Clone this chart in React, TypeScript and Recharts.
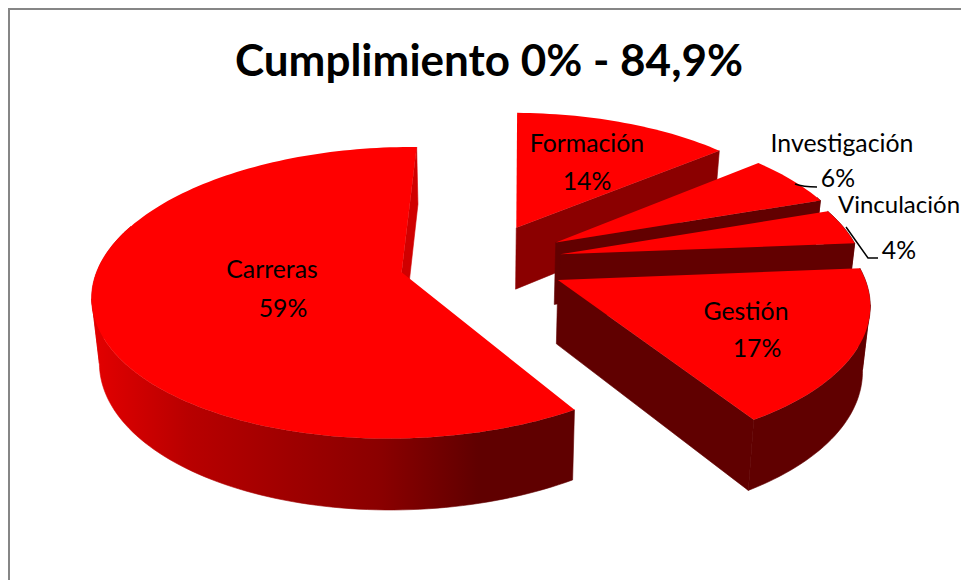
import { PieChart, Pie } from "recharts";

const categories = ["Carreras", "Formación", "Investigación", "Vinculación", "Gestión"];
const shares = [59.2, 13.6, 5.8, 4.0, 17.4];

const data = categories.map((name, i) => ({ name, value: shares[i] }));

// 3D look of the slices
const TILT = 140 / 302;
const PERSPECTIVE = 0.14;
const DEPTH = 63;
const BOTTOM_SCALE = 0.98;
const EXPLODE = [0.27, 0.28, 0.29, 0.27, 0.28];
const TOP_COLOR = "#ff0000";
const CUT_COLORS = ["#d00000", "#8b0000", "#620000", "#620000", "#600000"];
const WALL_STOPS = [
  ["#e40000", "#b80000", "#a00000", "#8a0000", "#600000", "#600000"],
  ["#8b0000", "#8b0000"],
  ["#620000", "#620000"],
  ["#620000", "#620000"],
  ["#600000", "#600000"],
];

// label placement: x, y of name, x, y of percent
const LABEL_POS = [
  [272, 278, 283, 317],
  [587, 152, 587, 190],
  [842, 152, 838, 187],
  [899, 213, 899, 259],
  [746, 320, 757, 357],
];
const LEADERS: Record<number, string> = {
  2: "M795 184 Q803 187 817 187",
  3: "M846 227 L868 258 L878 258",
};

type Pt = [number, number];

function Slice(props: any) {
  const { cx, cy, outerRadius, startAngle, endAngle, name } = props;
  const idx = categories.indexOf(name);
  const mid = (90 - (startAngle + endAngle) / 2) * (Math.PI / 180);
  const ox = Math.sin(mid) * EXPLODE[idx];
  const oz = Math.cos(mid) * EXPLODE[idx];

  const project = (r: number, theta: number, lower = false): Pt => {
    const X = ox + r * Math.sin(theta);
    const Z = oz + r * Math.cos(theta);
    const w = 1 + PERSPECTIVE * Z;
    const sx = (outerRadius * X) / w;
    const sy = -(outerRadius * TILT * Z) / w;
    if (!lower) return [cx + sx, cy + sy];
    return [cx + sx * BOTTOM_SCALE, cy + sy + DEPTH / (1 + 0.11 * Z)];
  };

  const a0 = (90 - startAngle) * (Math.PI / 180);
  const a1 = (90 - endAngle) * (Math.PI / 180);
  const steps = Math.max(8, Math.round(Math.abs(a1 - a0) * 40));
  const thetas: number[] = [];
  for (let i = 0; i <= steps; i++) thetas.push(a0 + ((a1 - a0) * i) / steps);

  const toPath = (pts: Pt[]) =>
    "M" + pts.map((p) => p[0].toFixed(2) + " " + p[1].toFixed(2)).join("L") + "Z";

  const apex = project(0, 0);
  const apexLow = project(0, 0, true);
  const rim = thetas.map((t) => project(1, t));
  const inner = rim[Math.floor(rim.length / 2)];

  // a cut face shows only when its lower edge falls outside the top face
  const cut = (theta: number) => {
    const p = project(1, theta);
    const ex = p[0] - apex[0];
    const ey = p[1] - apex[1];
    const side = ex * (inner[1] - apex[1]) - ey * (inner[0] - apex[0]);
    if (ex * side >= 0) return null;
    return toPath([apex, p, project(1, theta, true), apexLow]);
  };

  const front = thetas.filter((t) => Math.cos(t) < 0.35);
  // split the wall where the rim turns back, else the fold leaves a hole in the fill
  const runs: number[][] = [];
  let run: number[] = [];
  let lastDir = 0;
  front.forEach((t, i) => {
    if (i > 0) {
      const dir = Math.sign(project(1, t)[0] - project(1, front[i - 1])[0]);
      if (lastDir !== 0 && dir !== lastDir) {
        runs.push(run);
        run = [front[i - 1]];
      }
      lastDir = dir;
    }
    run.push(t);
  });
  if (run.length > 1) runs.push(run);

  const wallPaths = runs.map((r) =>
    toPath([
      ...r.map((t) => project(1, t)),
      ...[...r].reverse().map((t) => project(1, t, true)),
    ])
  );
  const wallXs = front.map((t) => project(1, t)[0]);
  const stops = WALL_STOPS[idx];
  const gradId = "wall-" + idx;
  const cuts = [cut(a0), cut(a1)];

  return (
    <g>
      <defs>
        <linearGradient
          id={gradId}
          gradientUnits="userSpaceOnUse"
          x1={wallXs.length ? Math.min(...wallXs) : 0}
          x2={wallXs.length ? Math.max(...wallXs) : 1}
          y1={0}
          y2={0}
        >
          {stops.map((c, i) => (
            <stop key={i} offset={i / (stops.length - 1)} stopColor={c} />
          ))}
        </linearGradient>
      </defs>
      {wallPaths.map((d, i) => (
        <path key={i} d={d} fill={`url(#${gradId})`} stroke={`url(#${gradId})`} strokeWidth={0.6} />
      ))}
      {cuts.map(
        (d, i) => d && <path key={i} d={d} fill={CUT_COLORS[idx]} stroke={CUT_COLORS[idx]} strokeWidth={0.6} />
      )}
      <path d={toPath([apex, ...rim])} fill={TOP_COLOR} />
    </g>
  );
}

function SliceLabel(props: any) {
  const idx = categories.indexOf(props.name);
  const pos = LABEL_POS[idx];
  return (
    <g fontFamily="Lato" fontSize={24.8} fill="#000">
      {LEADERS[idx] && <path d={LEADERS[idx]} fill="none" stroke="#000" strokeWidth={1.5} />}
      <text x={pos[0]} y={pos[1]} textAnchor="middle" fontSize={idx === 3 ? 24 : undefined}>
        {props.name}
      </text>
      <text x={pos[2]} y={pos[3]} textAnchor="middle">
        {Math.round(shares[idx])}%
      </text>
    </g>
  );
}

export default function App() {
  return (
    <div style={{ position: "fixed", left: 0, top: 0, width: 961, height: 580, overflow: "hidden", background: "#fff" }}>
      <div
        style={{
          position: "absolute",
          left: 8,
          top: 8,
          width: 953,
          height: 572,
          boxSizing: "border-box",
          borderLeft: "2px solid #868686",
          borderTop: "2px solid #868686",
        }}
      />
      <div style={{ position: "absolute", left: 0, top: 0 }}>
        <PieChart width={961} height={580} margin={{ top: 0, right: 0, bottom: 0, left: 0 }}>
          <text x={489} y={76} textAnchor="middle" fontFamily="Lato" fontWeight={700} fontSize={44} fill="#000">
            Cumplimiento 0% - 84,9%
          </text>
          <Pie
            data={data}
            dataKey="value"
            nameKey="name"
            cx={481}
            cy={262}
            outerRadius={302}
            startAngle={-58}
            endAngle={-418}
            stroke="none"
            isAnimationActive={false}
            shape={Slice}
            label={SliceLabel}
            labelLine={false}
          />
        </PieChart>
      </div>
    </div>
  );
}
